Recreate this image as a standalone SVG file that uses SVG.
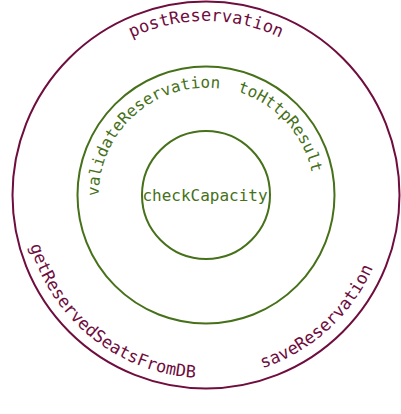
<svg xmlns="http://www.w3.org/2000/svg" width="401" height="414" viewBox="0 0 401 414">
<style>
  .ring { fill: none; stroke-width: 2; }
  .outer { stroke: #6e0d3e; }
  .green { stroke: #467019; }
  .lbl { font-family: "DejaVu Sans Mono", "Liberation Mono", monospace; }
  .lo { fill: #6e0d3e; font-size: 17px; }
  .lg { fill: #467019; font-size: 16px; }
</style>
<defs>
  <path id="p-post" d="M32,195 A174,174 0 0 1 380,195"/>
  <path id="p-validate" d="M125.24,266.70 A108,108 0 0 1 286.76,123.30"/>
  <path id="p-http" d="M133.04,115.37 A108,108 0 0 1 278.96,274.63"/>
  <path id="p-get" d="M63.0,80.8 A183,183 0 0 0 349.0,309.2"/>
  <path id="p-save" d="M70.65,318.16 A183,183 0 0 0 341.35,71.84"/>
</defs>
<rect width="401" height="414" fill="#ffffff"/>
<g id="outer-layer">
  <circle class="ring outer" cx="206" cy="195" r="193.5"/>
  <text class="lbl lo" text-anchor="middle"><textPath href="#p-post" startOffset="50%">postReservation</textPath></text>
  <text class="lbl lo" text-anchor="middle"><textPath href="#p-get" startOffset="50%">getReservedSeatsFromDB</textPath></text>
  <text class="lbl lo" text-anchor="middle"><textPath href="#p-save" startOffset="50%">saveReservation</textPath></text>
</g>
<g id="middle-layer">
  <circle class="ring green" cx="206" cy="195" r="128.5"/>
  <text class="lbl lg" text-anchor="middle"><textPath href="#p-validate" startOffset="50%">validateReservation</textPath></text>
  <text class="lbl lg" text-anchor="middle"><textPath href="#p-http" startOffset="50%">toHttpResult</textPath></text>
</g>
<g id="core">
  <circle class="ring green" cx="206" cy="195" r="64"/>
  <text class="lbl lg" x="205" y="201" text-anchor="middle">checkCapacity</text>
</g>
</svg>
